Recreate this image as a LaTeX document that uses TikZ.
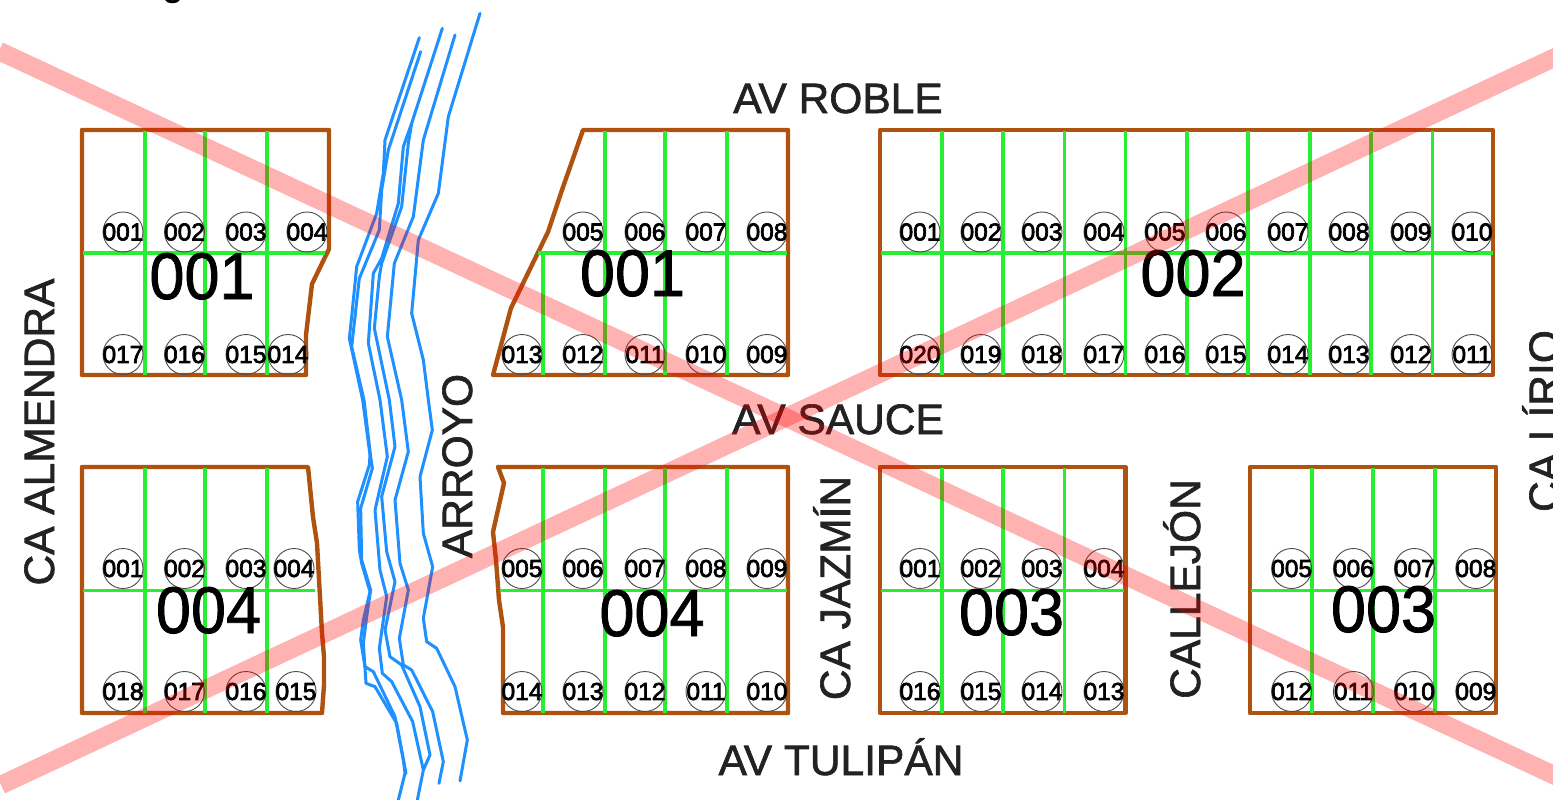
\documentclass[tikz,border=0pt]{standalone}
\usepackage{graphicx}
\usepackage{fontspec}
\setmainfont{Liberation Sans}
\newfontfamily\numfont[FakeBold=2.8]{Liberation Sans}
\newfontfamily\streetfont[FakeBold=1.5]{Liberation Sans}
\newfontfamily\blockfont[FakeBold=1.2]{Liberation Sans}
\newcommand\lotn[1]{\makebox[0pt]{\numfont\fontsize{24.5}{26}\selectfont #1}}
\newcommand\blk[1]{\scalebox{0.955}[1]{#1}}
\definecolor{brownline}{HTML}{B0520F}
\definecolor{greenline}{HTML}{28EE32}
\definecolor{riverblue}{HTML}{1E90FF}
\definecolor{streettext}{HTML}{222222}
\tikzset{
  outlinepath/.style={draw=brownline,line width=4.4pt,line join=round},
  lotline/.style={draw=greenline,line width=3.4pt},
  riverline/.style={draw=riverblue,line width=3pt,line join=round,line cap=round},
  crossline/.style={draw=red,line width=18.5pt,opacity=0.3},
  lotmark/.style={circle,draw=black!70,line width=0.9pt,minimum size=40pt,inner sep=0pt},
  streetname/.style={text=streettext,anchor=base,inner sep=0pt,font=\streetfont\fontsize{42.5}{50}\selectfont},
  blockname/.style={anchor=base,inner sep=0pt,font=\blockfont\fontsize{66}{70}\selectfont},
}
\begin{document}
\begin{tikzpicture}[x=1pt,y=-1pt]
\useasboundingbox (0,0) rectangle (1553,800);
\fill[white] (0,0) rectangle (1553,800);

% clipped heading fragment
\begin{scope}
\clip (0,0) rectangle (1553,800);
\node[anchor=base,inner sep=0pt,font=\fontsize{34}{36}\selectfont\bfseries] (headfrag) at (173,-3) {g};
\end{scope}

% rivers
\begin{scope}[xshift=340pt,x=0.33333pt,y=-0.33333pt]
\draw[riverline] (238,113)--(135,420)--(130,520)--(110,640)--(50,800)--(35,950)--(28,1015)--(40,1070)--(68,1200)
  --(90,1365)--(88,1395)--(53,1505)--(58,1650)--(65,1690)--(90,1775)--(70,1860)--(62,1920)--(75,2000)--(100,2015)--(165,2150)--(190,2280)--(195,2320)--(175,2400);
\draw[riverline] (242,155)--(145,450)--(125,570)--(118,690)--(58,835)--(45,950)--(35,1040)--(72,1200)
  --(92,1370)--(97,1405)--(62,1525)--(65,1680)--(92,1770)--(80,1850)--(70,1930)--(78,2050)--(105,2060)--(170,2170)--(198,2320);
\draw[riverline] (307,85)--(215,370)--(190,440)--(175,610)--(125,775)--(100,820)--(85,1030)--(120,1200)
  --(142,1370)--(105,1530)--(120,1710)--(140,1790)--(118,1945)--(127,2020)--(155,2045)--(218,2165)--(250,2310)--(232,2400);
\draw[riverline] (215,370)--(205,430)--(185,620)--(125,790)--(118,830)--(103,985)--(148,1200)
  --(165,1340)--(125,1490)--(140,1655)--(165,1745)--(135,1890)--(150,1970)--(185,1995)--(240,2120)--(270,2265)--(250,2310);
\draw[riverline] (345,105)--(250,420)--(220,650)--(163,790)--(142,1010)--(185,1200)
  --(205,1355)--(165,1500)--(180,1690)--(205,1770)--(178,1915)--(190,1995)--(215,2010)--(278,2135)--(310,2285)--(297,2350);
\draw[riverline] (420,40)--(325,350)--(295,580)--(235,720)--(215,940)--(250,1080)--(265,1200)
  --(277,1290)--(240,1430)--(250,1600)--(278,1700)--(250,1855)--(260,1925)--(290,1945)--(345,2060)--(382,2220)--(360,2343);
\end{scope}

% block outlines
\draw[outlinepath] (82,130)--(329,130)--(329,249)--(312,284)--(306,335)--(306,375)--(82,375)--cycle;
\draw[outlinepath] (583,130)--(788,130)--(788,375)--(493,375)--(511,308)--(548,232)--(562,190)--cycle;
\draw[outlinepath] (880,130)--(1493,130)--(1493,375)--(880,375)--cycle;
\draw[outlinepath] (82,467)--(308,467)--(313,517)--(317,543)--(322,633)--(324,657)--(324,685)--(322,713)--(82,713)--cycle;
\draw[outlinepath] (498,467)--(788,467)--(788,713)--(503,713)--(503,627)--(499,600)--(496,560)--(493,532)--(504,483)--cycle;
\draw[outlinepath] (880,467)--(1125.5,467)--(1125.5,713)--(880,713)--cycle;
\draw[outlinepath] (1250,467)--(1496,467)--(1496,713)--(1250,713)--cycle;

% lot lines
\foreach \x in {145,205,267} {\draw[lotline] (\x,131)--(\x,375); \draw[lotline] (\x,468)--(\x,713);}
\draw[lotline] (83,253)--(325,253);
\draw[lotline] (83,590.5)--(315,590.5);
\foreach \x in {605,665,727} {\draw[lotline] (\x,131)--(\x,375); \draw[lotline] (\x,468)--(\x,713);}
\draw[lotline] (543,253)--(543,375);
\draw[lotline] (543,468)--(543,713);
\draw[lotline] (538,253)--(787,253);
\draw[lotline] (500,590.5)--(787,590.5);
\foreach \x in {942,1003,1064.7,1125.2,1187,1248,1310,1371,1432.7} {\draw[lotline] (\x,131)--(\x,375);}
\draw[lotline] (881,253)--(1493,253);
\foreach \x in {942,1003,1064.7} {\draw[lotline] (\x,468)--(\x,713);}
\draw[lotline] (881,590.5)--(1124,590.5);
\foreach \x in {1312,1373,1435} {\draw[lotline] (\x,468)--(\x,713);}
\draw[lotline] (1251,590.5)--(1494,590.5);

% lot marks
\foreach \x/\t in {123/001,184.5/002,246/003,307/004} \node[lotmark] (au\t) at (\x,232) {\lotn{\t}};
\foreach \x/\t in {123/017,184.5/016,246/015,288/014} \node[lotmark] (al\t) at (\x,354.5) {\lotn{\t}};
\foreach \x/\t in {583/005,645/006,706/007,767/008} \node[lotmark] (bu\t) at (\x,232) {\lotn{\t}};
\foreach \x/\t in {522/013,583/012,645/011,706/010,767/009} \node[lotmark] (bl\t) at (\x,354.5) {\lotn{\t}};
\foreach \x/\t in {920/001,981/002,1042/003,1104/004,1165/005,1226/006,1288/007,1349/008,1411/009,1472/010} \node[lotmark] (cu\t) at (\x,232) {\lotn{\t}};
\foreach \x/\t in {920/020,981/019,1042/018,1104/017,1165/016,1226/015,1288/014,1349/013,1411/012,1472/011} \node[lotmark] (cl\t) at (\x,354.5) {\lotn{\t}};
\foreach \x/\t in {123/001,184.5/002,246/003,294/004} \node[lotmark] (du\t) at (\x,568.5) {\lotn{\t}};
\foreach \x/\t in {123/018,184.5/017,246/016,296/015} \node[lotmark] (dl\t) at (\x,691.5) {\lotn{\t}};
\foreach \x/\t in {522/005,583/006,645/007,706/008,767/009} \node[lotmark] (eu\t) at (\x,568.5) {\lotn{\t}};
\foreach \x/\t in {522/014,583/013,645/012,706/011,767/010} \node[lotmark] (el\t) at (\x,691.5) {\lotn{\t}};
\foreach \x/\t in {920/001,981/002,1042/003,1104/004} \node[lotmark] (fu\t) at (\x,568.5) {\lotn{\t}};
\foreach \x/\t in {920/016,981/015,1042/014,1104/013} \node[lotmark] (fl\t) at (\x,691.5) {\lotn{\t}};
\foreach \x/\t in {1291.6/005,1353.4/006,1414.4/007,1475.8/008} \node[lotmark] (gu\t) at (\x,568.5) {\lotn{\t}};
\foreach \x/\t in {1291.6/012,1353.4/011,1414.4/010,1475.8/009} \node[lotmark] (gl\t) at (\x,691.5) {\lotn{\t}};

% block names
\node[blockname] (blockA) at (202,299) {\blk{001}};
\node[blockname] (blockB) at (632.5,296) {\blk{001}};
\node[blockname] (blockC) at (1193,296) {\blk{002}};
\node[blockname] (blockD) at (208.5,633) {\blk{004}};
\node[blockname] (blockE) at (652,636) {\blk{004}};
\node[blockname] (blockF) at (1011.5,635) {\blk{003}};
\node[blockname] (blockG) at (1383.5,632) {\blk{003}};

% street names
\node[streetname] (roble) at (838,113) {AV ROBLE};
\node[streetname] (sauce) at (838,434) {AV SAUCE};
\node[streetname] (tulipan) at (841,775) {AV TULIPÁN};
\node[streetname,rotate=90] (almendra) at (54,432) {CA ALMENDRA};
\node[streetname,rotate=90] (arroyo) at (472,466) {ARROYO};
\node[streetname,rotate=90] (jazmin) at (850,588) {CA JAZMÍN};
\node[streetname,rotate=90] (callejon) at (1200,589) {CALLEJÓN};
\node[streetname,rotate=90] (lirio) at (1559,421) {CA LÍRIO};

% cross
\draw[crossline] (-1,51)--(1560,778);
\draw[crossline] (1,785)--(1560,55);
\end{tikzpicture}
\end{document}
